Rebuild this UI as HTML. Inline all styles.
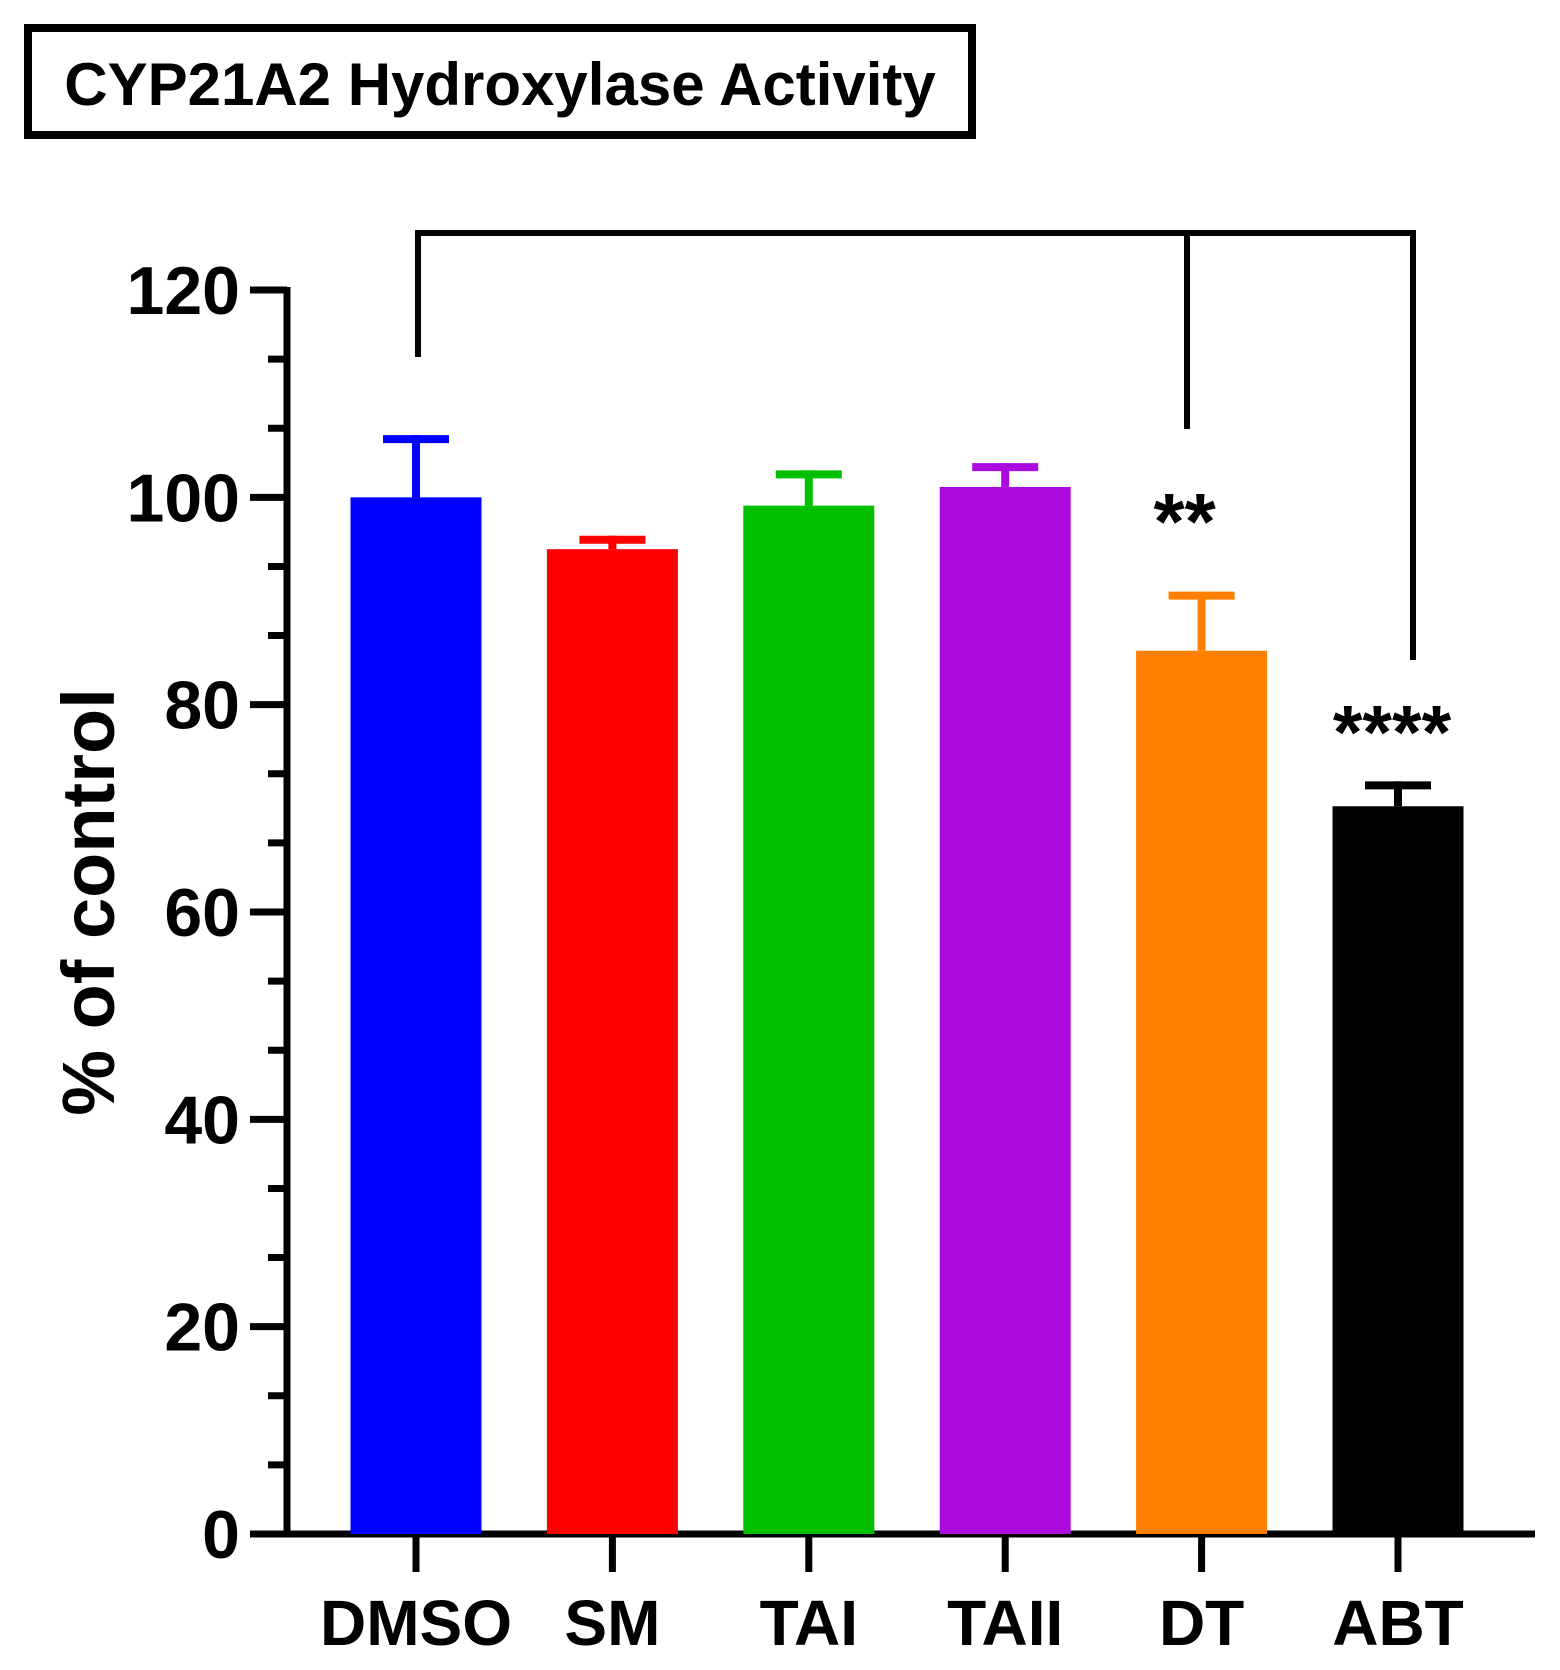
<!DOCTYPE html>
<html><head><meta charset="utf-8"><style>
body{margin:0;background:#fff;}
svg{display:block;font-family:"Liberation Sans",Arial,sans-serif;font-weight:bold;}
</style></head><body>
<svg id="chart" width="1560" height="1670" viewBox="0 0 1560 1670">
<rect x="28" y="28" width="944" height="107" fill="none" stroke="#000" stroke-width="8"/>
<text x="500" y="105" font-size="60" text-anchor="middle">CYP21A2 Hydroxylase Activity</text>
<text transform="translate(114,902) rotate(-90)" font-size="74" text-anchor="middle">% of control</text>
<g id="axes"></g>
<g id="bars"></g>
<g id="sig">
<path d="M418,357 V233 H1413 V660 M1187,233 V429" fill="none" stroke="#000" stroke-width="6"/>
</g>
</svg>
<script>
const categories=["DMSO","SM","TAI","TAII","DT","ABT"];
const values=[100,95,99.2,101,85.2,70.2];
const errors=[6,1.3,3.4,2.3,5.7,2.4];
const colors=["#0000ff","#ff0000","#00c000","#ad0ae0","#ff8000","#000000"];
const yTicks=[0,20,40,60,80,100,120];
const stars=["","","","","**","****"];
const starLevels=[0,0,0,0,95,74.8];
const NS="http://www.w3.org/2000/svg";
const y=v=>1534-v*(1534-290)/120;
const x=i=>416+i*196.4;
const bw=131;
function mk(t,a,p){const e=document.createElementNS(NS,t);for(const k in a)e.setAttribute(k,a[k]);p.appendChild(e);return e;}
const axes=document.getElementById('axes'),bars=document.getElementById('bars');
for(let i=0;i<categories.length;i++){
  const g=mk('g',{},bars);
  
  
  mk('rect',{x:x(i)-bw/2,y:y(values[i]),width:bw,height:y(0)-y(values[i]),fill:colors[i]},g);
  const top=y(values[i]+errors[i]);
  mk('line',{x1:x(i),x2:x(i),y1:y(values[i]),y2:top,stroke:colors[i],'stroke-width':8},g);
  mk('line',{x1:x(i)-33,x2:x(i)+33,y1:top+4,y2:top+4,stroke:colors[i],'stroke-width':8},g);
  const tk=mk('line',{x1:x(i),x2:x(i),y1:y(0),y2:1572,stroke:'#000','stroke-width':7},axes);
  
  
  const lb=mk('text',{x:x(i),y:1645,'font-size':64,'text-anchor':'middle'},axes);
  lb.textContent=categories[i];
  
  
  if(stars[i]){
    const s=mk('text',{x:x(i)-(i==4?17:6),y:y(starLevels[i]),'font-size':(i==4?80:76),'text-anchor':'middle'},g);
    s.textContent=stars[i];
  }
}
for(let k=1;k<18;k++){
  if(k%3){ const v=k*20/3;
    const m=mk('line',{x1:268,x2:287,y1:y(v),y2:y(v),stroke:'#000','stroke-width':7},axes);
    
     }
}
yTicks.forEach(v=>{
  const t=mk('line',{x1:250,x2:287,y1:y(v),y2:y(v),stroke:'#000','stroke-width':7},axes);
  
  
  const l=mk('text',{x:240,y:y(v)+24,'font-size':68,'text-anchor':'end'},axes);
  l.textContent=v;
  
  
});
const ya=mk('line',{x1:287,x2:287,y1:y(120)-3,y2:y(0)+3,stroke:'#000','stroke-width':7},axes);


const xa=mk('line',{x1:250,x2:1535,y1:y(0),y2:y(0),stroke:'#000','stroke-width':7},axes);


</script>
</body></html>
